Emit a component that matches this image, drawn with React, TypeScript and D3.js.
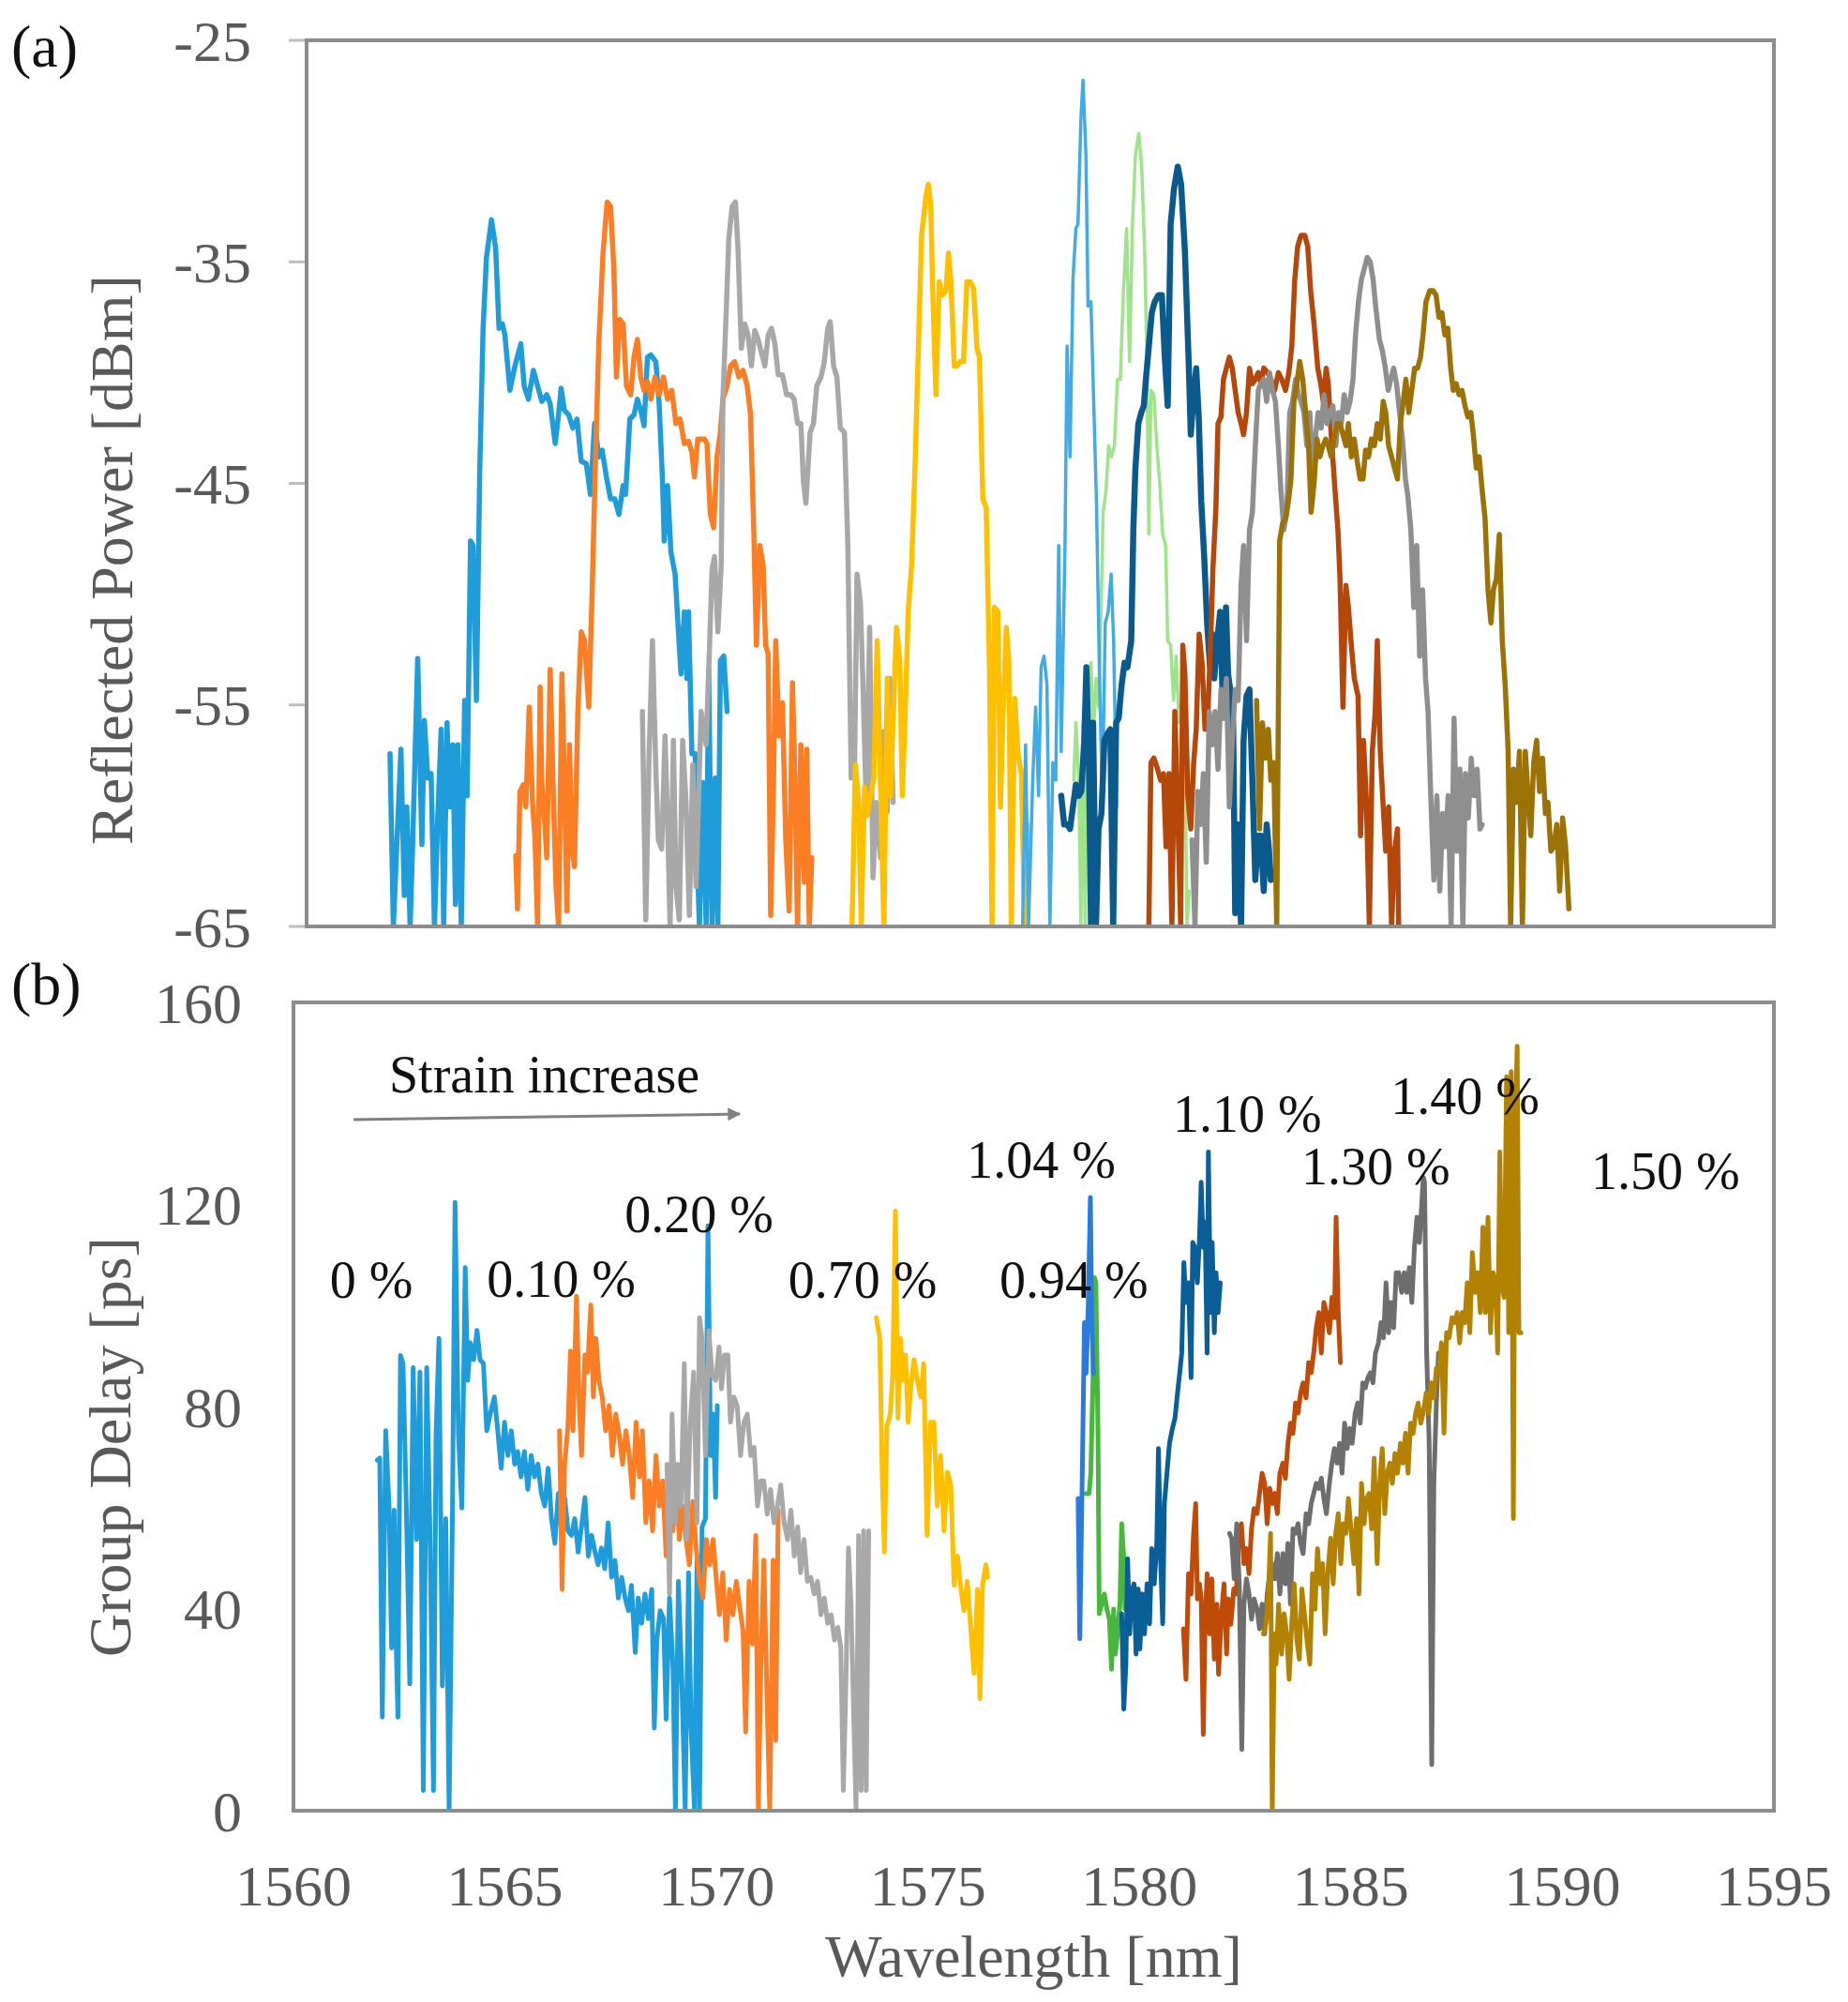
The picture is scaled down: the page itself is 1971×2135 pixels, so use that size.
import React from 'react';
import * as d3 from 'd3';

type Pt = [number, number];

// ---- (a) reflected power [dBm] vs wavelength [nm] ----
const refl000: Pt[] = [[1561.99,-57.2],[1562.07,-65],[1562.25,-57.0],[1562.33,-63.6],[1562.39,-59.6],[1562.47,-65],[1562.53,-61.3],[1562.65,-52.9],[1562.75,-61.3],[1562.81,-55.7],[1562.89,-58.3],[1562.97,-58.1],[1563.05,-65],[1563.13,-60.0],[1563.21,-56.1],[1563.27,-65],[1563.35,-55.8],[1563.41,-59.6],[1563.49,-56.8],[1563.55,-64.0],[1563.61,-56.8],[1563.69,-65],[1563.77,-54.8],[1563.83,-59.1],[1563.91,-47.6],[1563.97,-47.8],[1564.05,-54.8],[1564.13,-44.4],[1564.21,-38.0],[1564.29,-34.8],[1564.41,-33.1],[1564.51,-34.4],[1564.59,-38.0],[1564.67,-37.8],[1564.73,-38.3],[1564.85,-40.8],[1564.97,-39.7],[1565.11,-38.7],[1565.19,-40.6],[1565.29,-41.2],[1565.41,-39.9],[1565.51,-40.6],[1565.61,-41.3],[1565.73,-41.0],[1565.81,-41.4],[1565.93,-43.2],[1566.01,-41.9],[1566.07,-40.7],[1566.15,-41.7],[1566.25,-41.9],[1566.35,-42.5],[1566.45,-42.1],[1566.55,-44.0],[1566.67,-44.1],[1566.77,-45.5],[1566.87,-42.3],[1566.97,-43.8],[1567.05,-43.5],[1567.15,-44.7],[1567.25,-45.7],[1567.35,-45.7],[1567.45,-46.4],[1567.55,-45.1],[1567.61,-45.5],[1567.71,-42.1],[1567.81,-41.9],[1567.89,-41.2],[1567.97,-41.7],[1568.05,-42.4],[1568.13,-39.3],[1568.21,-39.2],[1568.33,-39.5],[1568.41,-41.4],[1568.49,-44.9],[1568.53,-47.6],[1568.61,-45.1],[1568.69,-48.1],[1568.79,-49.1],[1568.87,-51.7],[1568.93,-53.6],[1569.01,-50.8],[1569.07,-53.8],[1569.11,-50.8],[1569.19,-57.2],[1569.27,-57.2],[1569.31,-61.5],[1569.37,-65],[1569.45,-58.5],[1569.53,-65],[1569.59,-53.4],[1569.67,-65],[1569.75,-58.3],[1569.81,-65],[1569.87,-53.0],[1569.95,-52.8],[1570.03,-55.3]];
const refl010: Pt[] = [[1564.99,-61.8],[1565.03,-64.2],[1565.09,-58.9],[1565.17,-58.6],[1565.23,-59.6],[1565.31,-55.1],[1565.39,-59.4],[1565.45,-61.1],[1565.51,-65],[1565.57,-54.2],[1565.61,-58.5],[1565.69,-60.6],[1565.73,-61.9],[1565.81,-53.4],[1565.89,-59.4],[1565.95,-63.2],[1566.01,-65],[1566.09,-53.6],[1566.15,-58.5],[1566.21,-64.3],[1566.27,-56.8],[1566.33,-61.5],[1566.39,-62.3],[1566.47,-55.3],[1566.55,-51.7],[1566.63,-52.1],[1566.73,-55.1],[1566.81,-50.0],[1566.89,-44.0],[1566.97,-38.7],[1567.07,-34.6],[1567.17,-32.3],[1567.25,-32.5],[1567.33,-35.3],[1567.39,-40.2],[1567.47,-37.6],[1567.55,-37.8],[1567.63,-40.6],[1567.73,-41.0],[1567.81,-39.3],[1567.89,-38.5],[1567.97,-40.2],[1568.05,-40.8],[1568.13,-40.4],[1568.21,-41.2],[1568.31,-40.2],[1568.41,-41.0],[1568.51,-40.2],[1568.61,-41.2],[1568.71,-40.8],[1568.81,-42.3],[1568.91,-42.1],[1569.01,-43.2],[1569.11,-43.1],[1569.19,-43.6],[1569.25,-44.7],[1569.33,-43.0],[1569.41,-43.0],[1569.49,-43.0],[1569.55,-43.2],[1569.63,-46.4],[1569.71,-47.0],[1569.79,-43.8],[1569.87,-42.7],[1569.93,-41.2],[1570.03,-40.6],[1570.11,-39.7],[1570.21,-39.5],[1570.31,-40.2],[1570.41,-39.9],[1570.51,-40.6],[1570.59,-41.9],[1570.67,-47.4],[1570.73,-52.3],[1570.81,-47.8],[1570.89,-48.7],[1570.95,-52.3],[1571.01,-52.7],[1571.07,-64.5],[1571.13,-59.4],[1571.19,-52.1],[1571.27,-56.4],[1571.35,-54.9],[1571.43,-61.1],[1571.51,-64.3],[1571.59,-54.0],[1571.65,-58.5],[1571.71,-65],[1571.79,-56.8],[1571.87,-63.0],[1571.93,-57.0],[1571.99,-65],[1572.05,-61.9]];
const refl020: Pt[] = [[1568.01,-55.3],[1568.09,-64.7],[1568.17,-57.2],[1568.25,-52.1],[1568.33,-57.9],[1568.39,-61.1],[1568.47,-61.5],[1568.55,-56.4],[1568.61,-60.2],[1568.67,-65],[1568.75,-56.6],[1568.81,-63.2],[1568.89,-64.7],[1568.97,-56.6],[1569.05,-59.4],[1569.13,-64.5],[1569.21,-57.7],[1569.29,-63.2],[1569.41,-55.3],[1569.53,-56.8],[1569.61,-52.5],[1569.67,-48.9],[1569.73,-48.3],[1569.81,-51.7],[1569.89,-48.7],[1569.93,-41.2],[1570.01,-37.2],[1570.07,-34.0],[1570.15,-32.5],[1570.23,-32.3],[1570.29,-34.4],[1570.37,-38.9],[1570.45,-37.8],[1570.53,-38.3],[1570.61,-39.7],[1570.69,-38.1],[1570.77,-38.5],[1570.85,-39.1],[1570.93,-39.7],[1571.01,-38.3],[1571.09,-38.0],[1571.17,-38.7],[1571.25,-40.1],[1571.35,-40.1],[1571.45,-41.0],[1571.55,-41.0],[1571.63,-41.2],[1571.71,-42.3],[1571.79,-42.3],[1571.85,-44.9],[1571.91,-45.9],[1572.01,-42.7],[1572.09,-42.3],[1572.17,-40.6],[1572.27,-40.2],[1572.35,-39.5],[1572.43,-38.0],[1572.49,-37.7],[1572.57,-39.7],[1572.65,-40.2],[1572.73,-42.5],[1572.83,-42.7],[1572.91,-47.8],[1572.99,-58.3],[1573.07,-57.7],[1573.13,-49.1],[1573.21,-50.4],[1573.27,-54.0],[1573.35,-59.6],[1573.43,-51.5],[1573.51,-62.8],[1573.59,-59.4],[1573.69,-61.9],[1573.77,-56.2],[1573.85,-59.8],[1573.91,-53.8],[1573.99,-59.4]];
const refl070: Pt[] = [[1573.01,-65],[1573.09,-57.7],[1573.17,-59.4],[1573.23,-65],[1573.31,-58.7],[1573.37,-60.0],[1573.45,-59.1],[1573.53,-58.3],[1573.61,-52.1],[1573.69,-58.7],[1573.77,-65],[1573.85,-53.8],[1573.93,-59.1],[1573.99,-55.7],[1574.07,-51.5],[1574.15,-53.0],[1574.21,-59.1],[1574.29,-54.7],[1574.35,-50.8],[1574.43,-48.7],[1574.51,-44.4],[1574.59,-39.1],[1574.67,-33.8],[1574.77,-32.1],[1574.83,-31.5],[1574.89,-32.5],[1574.93,-35.9],[1575.01,-41.0],[1575.09,-35.9],[1575.17,-36.5],[1575.25,-36.3],[1575.31,-34.6],[1575.37,-35.9],[1575.45,-39.7],[1575.51,-39.7],[1575.59,-39.5],[1575.67,-39.5],[1575.75,-35.9],[1575.83,-35.9],[1575.91,-36.2],[1575.99,-38.9],[1576.05,-39.3],[1576.13,-45.7],[1576.21,-46.1],[1576.29,-53.4],[1576.35,-65],[1576.41,-50.6],[1576.49,-50.8],[1576.55,-59.6],[1576.61,-55.5],[1576.69,-51.5],[1576.75,-53.0],[1576.81,-65],[1576.89,-54.7],[1576.97,-57.2],[1577.05,-58.1],[1577.13,-65],[1577.19,-60.4]];
const refl094: Pt[] = [[1578.30,-58.4],[1578.35,-55.8],[1578.42,-58.6],[1578.47,-65],[1578.52,-55.8],[1578.57,-65],[1578.64,-54.6],[1578.71,-53.1],[1578.77,-56.3],[1578.83,-53.8],[1578.89,-55.1],[1578.95,-50.8],[1579.00,-46.3],[1579.07,-45.3],[1579.13,-43.3],[1579.20,-43.8],[1579.27,-43.3],[1579.34,-40.3],[1579.41,-40.3],[1579.48,-36.5],[1579.56,-33.5],[1579.63,-39.5],[1579.70,-33.3],[1579.77,-30.2],[1579.85,-29.2],[1579.92,-30.7],[1579.99,-34.5],[1580.04,-39.0],[1580.09,-47.3],[1580.14,-40.8],[1580.21,-41.0],[1580.28,-43.3],[1580.35,-45.0],[1580.42,-47.3],[1580.49,-47.8],[1580.54,-52.1],[1580.61,-52.3],[1580.68,-54.8],[1580.74,-52.8],[1580.81,-55.8],[1580.88,-54.8],[1580.95,-57.3],[1581.00,-65],[1581.05,-63.4]];
const refl104: Pt[] = [[1577.08,-65],[1577.15,-56.8],[1577.22,-65],[1577.32,-58.4],[1577.39,-55.1],[1577.46,-59.1],[1577.52,-53.3],[1577.59,-52.8],[1577.66,-54.1],[1577.73,-65],[1577.80,-57.6],[1577.87,-58.4],[1577.94,-47.8],[1578.00,-57.1],[1578.09,-47.8],[1578.14,-38.8],[1578.21,-43.8],[1578.28,-35.8],[1578.35,-33.5],[1578.40,-33.3],[1578.47,-28.5],[1578.52,-26.8],[1578.59,-30.2],[1578.64,-37.0],[1578.71,-36.8],[1578.77,-41.0],[1578.84,-45.8],[1578.91,-53.3],[1578.98,-59.4],[1579.05,-51.3],[1579.12,-50.8],[1579.19,-49.1],[1579.25,-52.1],[1579.32,-59.6]];
const refl110: Pt[] = [[1578.00,-59.1],[1578.07,-60.4],[1578.14,-60.4],[1578.21,-60.6],[1578.28,-59.6],[1578.35,-58.6],[1578.42,-59.1],[1578.48,-58.9],[1578.55,-56.6],[1578.60,-53.3],[1578.66,-57.3],[1578.71,-65],[1578.76,-55.8],[1578.83,-65],[1578.89,-60.6],[1578.96,-59.9],[1579.03,-56.6],[1579.10,-56.3],[1579.17,-56.1],[1579.24,-65],[1579.31,-55.8],[1579.37,-55.6],[1579.44,-54.1],[1579.51,-53.1],[1579.58,-53.3],[1579.67,-52.1],[1579.72,-47.1],[1579.77,-44.3],[1579.84,-42.3],[1579.91,-41.8],[1579.97,-41.5],[1580.02,-40.3],[1580.09,-38.8],[1580.16,-37.3],[1580.23,-36.8],[1580.32,-36.5],[1580.40,-36.5],[1580.47,-39.3],[1580.54,-41.5],[1580.61,-33.3],[1580.69,-31.7],[1580.78,-30.7],[1580.86,-31.5],[1580.95,-34.5],[1581.04,-39.5],[1581.09,-42.8],[1581.16,-41.0],[1581.22,-39.8],[1581.28,-42.0],[1581.34,-45.8],[1581.41,-48.3],[1581.48,-51.3],[1581.55,-53.3],[1581.60,-51.8],[1581.65,-53.8],[1581.72,-52.1],[1581.79,-50.8],[1581.86,-55.3],[1581.93,-50.6],[1581.98,-53.6],[1582.03,-54.3],[1582.10,-55.8],[1582.15,-64.4],[1582.22,-60.4],[1582.29,-65],[1582.35,-56.6],[1582.42,-54.6],[1582.49,-54.3],[1582.56,-58.4],[1582.63,-62.9],[1582.70,-60.9],[1582.76,-60.9],[1582.83,-63.4],[1582.90,-60.4],[1582.95,-61.4],[1583.00,-62.9]];
const refl130: Pt[] = [[1580.09,-65],[1580.14,-57.6],[1580.21,-57.4],[1580.30,-57.9],[1580.37,-58.4],[1580.44,-58.1],[1580.50,-61.4],[1580.57,-58.1],[1580.64,-65],[1580.71,-55.3],[1580.78,-59.9],[1580.85,-65],[1580.90,-52.3],[1580.95,-53.6],[1581.02,-59.1],[1581.09,-60.6],[1581.16,-57.6],[1581.22,-56.1],[1581.29,-51.8],[1581.36,-53.1],[1581.43,-56.1],[1581.50,-55.3],[1581.57,-51.8],[1581.62,-48.8],[1581.69,-46.1],[1581.74,-42.3],[1581.81,-42.0],[1581.87,-40.3],[1581.94,-39.8],[1582.01,-39.3],[1582.08,-39.8],[1582.15,-40.8],[1582.22,-41.8],[1582.29,-42.3],[1582.35,-42.8],[1582.42,-41.8],[1582.49,-39.8],[1582.56,-40.5],[1582.63,-40.3],[1582.70,-40.0],[1582.76,-40.5],[1582.83,-39.8],[1582.92,-40.0],[1583.00,-40.3],[1583.09,-40.8],[1583.18,-40.0],[1583.26,-40.3],[1583.35,-40.8],[1583.43,-40.0],[1583.50,-38.8],[1583.57,-35.8],[1583.64,-34.3],[1583.72,-33.8],[1583.81,-33.8],[1583.88,-34.3],[1583.95,-36.3],[1584.03,-37.8],[1584.12,-39.8],[1584.19,-40.5],[1584.25,-41.3],[1584.32,-39.8],[1584.37,-40.5],[1584.44,-42.8],[1584.53,-45.3],[1584.60,-47.1],[1584.65,-49.3],[1584.72,-55.1],[1584.79,-49.6],[1584.85,-50.6],[1584.92,-52.3],[1584.99,-53.8],[1585.08,-54.6],[1585.14,-60.9],[1585.21,-56.6],[1585.28,-59.4],[1585.35,-65],[1585.42,-57.1],[1585.49,-55.3],[1585.54,-52.1],[1585.61,-57.1],[1585.68,-59.6],[1585.74,-61.6],[1585.81,-59.6],[1585.88,-65],[1585.95,-61.6],[1586.02,-60.6],[1586.05,-65]];
const refl140: Pt[] = [[1581.12,-61.1],[1581.19,-65],[1581.26,-58.9],[1581.33,-60.4],[1581.39,-58.1],[1581.46,-62.1],[1581.53,-55.3],[1581.60,-56.8],[1581.67,-55.3],[1581.74,-57.9],[1581.81,-54.3],[1581.87,-55.6],[1581.94,-53.8],[1582.01,-59.6],[1582.08,-56.6],[1582.15,-54.3],[1582.22,-54.8],[1582.29,-49.6],[1582.35,-47.8],[1582.42,-52.1],[1582.49,-47.1],[1582.56,-46.3],[1582.63,-43.3],[1582.70,-40.8],[1582.76,-40.5],[1582.83,-40.3],[1582.90,-41.3],[1582.97,-40.0],[1583.04,-40.8],[1583.11,-41.3],[1583.18,-43.3],[1583.24,-45.3],[1583.31,-47.1],[1583.38,-46.3],[1583.45,-41.8],[1583.52,-41.3],[1583.59,-40.3],[1583.66,-41.0],[1583.72,-41.3],[1583.79,-41.8],[1583.86,-43.3],[1583.93,-41.8],[1584.00,-44.8],[1584.07,-42.8],[1584.13,-41.8],[1584.20,-42.5],[1584.27,-41.0],[1584.34,-42.3],[1584.41,-41.8],[1584.48,-41.5],[1584.55,-43.3],[1584.61,-41.8],[1584.68,-42.3],[1584.75,-41.0],[1584.82,-41.8],[1584.89,-41.3],[1584.96,-40.3],[1585.02,-38.3],[1585.09,-36.8],[1585.16,-35.8],[1585.23,-35.3],[1585.30,-34.8],[1585.37,-35.0],[1585.44,-35.8],[1585.50,-37.0],[1585.59,-38.5],[1585.66,-39.0],[1585.73,-39.8],[1585.80,-40.8],[1585.86,-40.3],[1585.93,-39.8],[1586.00,-40.5],[1586.07,-41.8],[1586.14,-43.0],[1586.21,-44.8],[1586.27,-45.6],[1586.34,-47.1],[1586.41,-50.6],[1586.48,-47.8],[1586.55,-52.8],[1586.62,-49.8],[1586.69,-53.8],[1586.75,-55.3],[1586.82,-59.4],[1586.89,-62.9],[1586.96,-59.1],[1587.03,-63.4],[1587.10,-59.9],[1587.16,-61.4],[1587.23,-59.1],[1587.30,-65],[1587.37,-55.6],[1587.44,-61.6],[1587.51,-57.9],[1587.58,-65],[1587.64,-58.1],[1587.71,-60.1],[1587.78,-57.4],[1587.85,-59.1],[1587.92,-57.9],[1587.99,-60.6],[1588.04,-60.4]];
const refl150: Pt[] = [[1582.66,-54.8],[1582.73,-60.6],[1582.80,-55.8],[1582.87,-57.4],[1582.94,-56.1],[1583.00,-58.4],[1583.07,-57.6],[1583.14,-65],[1583.21,-47.6],[1583.28,-46.8],[1583.35,-46.6],[1583.42,-45.8],[1583.48,-44.8],[1583.55,-41.3],[1583.62,-40.5],[1583.69,-39.5],[1583.76,-40.3],[1583.83,-41.8],[1583.90,-43.3],[1583.96,-46.3],[1584.03,-45.0],[1584.10,-43.0],[1584.17,-43.8],[1584.24,-43.3],[1584.31,-43.0],[1584.37,-43.3],[1584.44,-43.8],[1584.51,-43.0],[1584.58,-42.3],[1584.65,-42.3],[1584.72,-42.8],[1584.79,-43.3],[1584.85,-42.3],[1584.92,-43.8],[1584.99,-43.0],[1585.06,-44.0],[1585.13,-44.8],[1585.20,-44.8],[1585.26,-43.5],[1585.33,-43.8],[1585.40,-43.0],[1585.47,-43.3],[1585.54,-42.3],[1585.61,-43.0],[1585.68,-41.3],[1585.74,-41.8],[1585.81,-43.3],[1585.88,-43.8],[1585.95,-44.3],[1586.02,-44.8],[1586.09,-42.3],[1586.16,-41.3],[1586.22,-40.3],[1586.29,-41.8],[1586.36,-40.8],[1586.43,-39.8],[1586.50,-39.8],[1586.57,-39.3],[1586.63,-38.3],[1586.70,-36.8],[1586.79,-36.3],[1586.87,-36.3],[1586.94,-36.5],[1587.01,-37.5],[1587.08,-37.3],[1587.15,-38.3],[1587.22,-38.0],[1587.29,-39.8],[1587.35,-40.8],[1587.42,-40.5],[1587.49,-41.0],[1587.56,-40.8],[1587.63,-41.5],[1587.70,-42.0],[1587.77,-41.8],[1587.83,-42.8],[1587.90,-44.3],[1587.97,-43.8],[1588.04,-45.3],[1588.11,-46.6],[1588.18,-49.8],[1588.25,-51.3],[1588.31,-49.8],[1588.38,-49.3],[1588.45,-47.3],[1588.52,-52.1],[1588.59,-54.1],[1588.66,-57.1],[1588.72,-65],[1588.79,-57.9],[1588.86,-59.4],[1588.93,-57.1],[1589.00,-65],[1589.07,-57.1],[1589.13,-58.9],[1589.20,-60.9],[1589.27,-57.6],[1589.34,-56.6],[1589.41,-58.9],[1589.48,-57.4],[1589.55,-59.9],[1589.61,-59.4],[1589.68,-61.6],[1589.75,-61.4],[1589.82,-60.4],[1589.89,-63.4],[1589.96,-60.1],[1590.03,-61.4],[1590.11,-64.2]];

// ---- (b) group delay [ps] vs wavelength [nm] ----
const delay000: Pt[] = [[1561.98,69.4],[1562.04,69.8],[1562.10,18.5],[1562.18,75.2],[1562.26,60.3],[1562.32,32.2],[1562.38,59.5],[1562.43,32.2],[1562.47,18.5],[1562.53,90.1],[1562.59,88.5],[1562.67,59.5],[1562.75,25.1],[1562.83,87.7],[1562.91,53.7],[1562.99,86.8],[1563.07,4.0],[1563.15,87.7],[1563.23,53.7],[1563.31,4.0],[1563.37,74.4],[1563.44,93.5],[1563.52,24.7],[1563.60,57.8],[1563.68,0],[1563.76,60.3],[1563.82,120.4],[1563.90,74.4],[1563.98,59.9],[1564.06,107.5],[1564.12,85.2],[1564.18,92.6],[1564.26,89.3],[1564.34,95.1],[1564.41,89.3],[1564.49,88.5],[1564.57,75.2],[1564.65,78.5],[1564.75,81.9],[1564.83,75.2],[1564.91,67.8],[1564.99,76.9],[1565.07,70.3],[1565.15,75.2],[1565.23,68.6],[1565.30,71.1],[1565.38,66.1],[1565.46,71.1],[1565.54,63.6],[1565.62,70.3],[1565.70,66.1],[1565.78,68.6],[1565.86,62.8],[1565.94,60.3],[1566.02,67.8],[1566.10,57.8],[1566.18,52.9],[1566.26,62.8],[1566.33,56.2],[1566.41,62.0],[1566.49,55.4],[1566.57,54.5],[1566.65,57.8],[1566.73,51.2],[1566.81,56.2],[1566.89,62.0],[1566.97,50.4],[1567.05,54.5],[1567.13,51.2],[1567.20,48.7],[1567.28,52.0],[1567.36,47.9],[1567.44,57.0],[1567.52,46.2],[1567.60,49.5],[1567.68,42.1],[1567.76,46.2],[1567.84,42.1],[1567.92,39.6],[1567.99,44.6],[1568.08,31.3],[1568.15,42.1],[1568.23,37.1],[1568.31,42.9],[1568.39,38.0],[1568.47,43.8],[1568.53,16.4],[1568.59,33.8],[1568.67,39.6],[1568.75,38.0],[1568.81,18.1],[1568.89,42.1],[1568.97,28.8],[1569.03,0.3],[1569.10,45.4],[1569.18,26.3],[1569.26,0.3],[1569.34,47.1],[1569.40,16.4],[1569.48,0.3],[1569.54,49.6],[1569.60,0.3],[1569.66,56.2],[1569.74,57.8],[1569.80,115.8],[1569.86,70.3],[1569.92,78.5],[1569.98,62.0],[1570.02,80.2]];
const delay010: Pt[] = [[1566.29,75.2],[1566.35,43.8],[1566.41,68.6],[1566.49,76.1],[1566.55,91.0],[1566.61,75.2],[1566.69,101.8],[1566.75,81.9],[1566.81,70.3],[1566.89,90.2],[1566.95,86.8],[1567.03,100.1],[1567.09,81.9],[1567.15,93.5],[1567.22,85.2],[1567.30,81.9],[1567.38,75.2],[1567.46,80.2],[1567.54,70.3],[1567.62,78.5],[1567.70,74.4],[1567.78,68.6],[1567.86,75.2],[1567.94,70.3],[1568.02,62.0],[1568.10,76.9],[1568.18,66.1],[1568.25,75.2],[1568.33,57.0],[1568.41,65.3],[1568.49,55.4],[1568.57,70.3],[1568.65,60.3],[1568.73,65.3],[1568.81,50.4],[1568.89,60.3],[1568.97,55.4],[1569.05,65.3],[1569.12,53.7],[1569.20,60.3],[1569.28,53.7],[1569.36,48.7],[1569.44,61.2],[1569.52,52.0],[1569.60,45.4],[1569.68,42.1],[1569.76,53.7],[1569.84,48.7],[1569.92,53.7],[1570.00,45.4],[1570.07,38.8],[1570.15,47.1],[1570.23,33.8],[1570.31,43.8],[1570.39,38.8],[1570.47,45.4],[1570.55,40.4],[1570.63,35.5],[1570.69,15.6],[1570.77,45.4],[1570.85,33.0],[1570.93,54.5],[1570.99,0.3],[1571.05,28.8],[1571.12,49.6],[1571.20,20.5],[1571.26,0.3],[1571.34,49.6],[1571.40,13.9],[1571.46,59.5]];
const delay020: Pt[] = [[1568.83,68.6],[1568.89,42.9],[1568.95,78.5],[1569.03,57.0],[1569.09,68.6],[1569.16,60.3],[1569.24,88.5],[1569.30,53.7],[1569.38,76.9],[1569.46,86.8],[1569.54,57.0],[1569.60,97.6],[1569.66,93.5],[1569.74,70.3],[1569.82,95.1],[1569.90,86.0],[1569.98,85.2],[1570.06,91.8],[1570.12,83.5],[1570.19,90.2],[1570.27,90.2],[1570.33,76.9],[1570.41,81.9],[1570.49,80.2],[1570.57,70.3],[1570.65,76.9],[1570.73,78.5],[1570.81,70.3],[1570.89,71.9],[1570.97,60.3],[1571.05,65.3],[1571.12,65.3],[1571.20,58.7],[1571.28,63.6],[1571.36,57.0],[1571.44,60.3],[1571.52,64.5],[1571.60,57.0],[1571.68,53.7],[1571.76,59.5],[1571.84,50.4],[1571.92,56.2],[1571.99,47.1],[1572.07,53.7],[1572.15,45.4],[1572.23,46.2],[1572.31,42.9],[1572.39,45.4],[1572.47,38.8],[1572.55,42.1],[1572.63,37.1],[1572.71,38.8],[1572.79,33.8],[1572.87,36.3],[1572.94,32.2],[1573.00,4.0],[1573.06,24.7],[1573.12,52.0],[1573.18,41.3],[1573.24,20.5],[1573.30,0],[1573.36,54.5],[1573.42,4.0],[1573.48,55.4],[1573.54,4.0],[1573.60,55.4]];
const delay070: Pt[] = [[1573.78,97.6],[1573.86,93.5],[1573.92,66.1],[1573.97,51.2],[1574.03,76.1],[1574.11,78.5],[1574.17,86.8],[1574.23,118.7],[1574.29,77.7],[1574.35,93.5],[1574.41,85.2],[1574.47,90.2],[1574.53,76.9],[1574.61,85.2],[1574.67,89.3],[1574.75,85.2],[1574.83,81.9],[1574.90,88.5],[1574.98,54.5],[1575.06,76.9],[1575.14,76.9],[1575.22,60.3],[1575.30,70.3],[1575.38,55.4],[1575.46,67.0],[1575.54,64.5],[1575.62,44.6],[1575.70,50.4],[1575.78,43.8],[1575.85,39.6],[1575.93,45.4],[1576.01,36.3],[1576.09,27.2],[1576.17,43.8],[1576.23,22.2],[1576.29,44.6],[1576.37,48.7],[1576.41,46.2]];
const delay094: Pt[] = [[1578.74,62.8],[1578.81,62.8],[1578.85,66.8],[1578.90,84.7],[1578.94,105.5],[1578.97,104.5],[1579.02,74.7],[1579.05,39.0],[1579.11,41.0],[1579.17,42.9],[1579.23,39.9],[1579.29,37.9],[1579.34,28.0],[1579.39,39.9],[1579.43,31.0],[1579.48,35.0],[1579.54,41.0],[1579.58,56.8],[1579.63,49.9],[1579.66,39.9]];
const delay104: Pt[] = [[1578.55,61.8],[1578.59,34.0],[1578.64,61.8],[1578.70,96.6],[1578.74,86.6],[1578.79,99.6],[1578.84,121.4],[1578.87,98.6],[1578.91,86.6]];
const delay110: Pt[] = [[1579.58,39.0],[1579.63,20.1],[1579.68,29.0],[1579.72,49.9],[1579.77,35.0],[1579.81,42.9],[1579.87,44.9],[1579.92,31.0],[1579.97,43.9],[1580.01,32.0],[1580.07,42.9],[1580.12,35.0],[1580.18,44.9],[1580.24,37.0],[1580.29,51.9],[1580.35,44.9],[1580.41,52.9],[1580.45,71.7],[1580.50,49.9],[1580.55,37.0],[1580.59,60.8],[1580.65,66.8],[1580.71,72.7],[1580.78,75.7],[1580.84,77.7],[1580.90,82.7],[1580.94,85.7],[1581.00,90.6],[1581.05,108.5],[1581.10,100.6],[1581.16,104.5],[1581.22,85.7],[1581.26,112.5],[1581.31,111.5],[1581.37,104.5],[1581.42,113.5],[1581.46,124.4],[1581.51,111.5],[1581.55,116.5],[1581.60,90.6],[1581.63,130.4],[1581.68,98.6],[1581.72,112.5],[1581.77,94.6],[1581.81,106.5],[1581.86,98.6],[1581.91,104.5]];
const delay130: Pt[] = [[1581.04,36.0],[1581.10,26.0],[1581.16,46.9],[1581.22,42.9],[1581.28,54.9],[1581.33,60.8],[1581.37,41.9],[1581.42,44.9],[1581.46,41.9],[1581.51,15.1],[1581.55,36.0],[1581.60,46.9],[1581.66,35.0],[1581.71,45.9],[1581.77,30.0],[1581.83,40.9],[1581.87,27.0],[1581.94,39.0],[1582.00,44.9],[1582.06,31.0],[1582.10,41.9],[1582.16,36.9],[1582.23,43.9],[1582.29,42.9],[1582.35,54.9],[1582.41,56.8],[1582.47,48.9],[1582.53,51.9],[1582.59,46.9],[1582.65,55.8],[1582.71,59.8],[1582.78,58.8],[1582.84,62.8],[1582.90,66.8],[1582.96,64.8],[1583.02,56.8],[1583.08,63.8],[1583.14,60.8],[1583.20,62.8],[1583.26,58.8],[1583.32,66.8],[1583.39,68.8],[1583.45,65.8],[1583.51,72.7],[1583.57,76.7],[1583.63,74.7],[1583.69,80.7],[1583.75,78.7],[1583.81,82.7],[1583.87,84.7],[1583.94,81.7],[1584.00,88.7],[1584.06,86.7],[1584.12,90.6],[1584.18,95.6],[1584.24,98.6],[1584.30,90.6],[1584.36,100.6],[1584.42,98.6],[1584.49,94.6],[1584.55,101.6],[1584.61,97.6],[1584.65,117.5],[1584.70,98.6],[1584.75,88.7]];
const delay140: Pt[] = [[1582.13,54.9],[1582.18,53.9],[1582.24,45.9],[1582.30,56.8],[1582.36,44.9],[1582.42,12.1],[1582.47,40.9],[1582.53,45.9],[1582.59,42.9],[1582.65,37.9],[1582.71,41.9],[1582.78,39.9],[1582.84,36.0],[1582.90,40.9],[1582.96,35.0],[1583.02,42.9],[1583.08,46.9],[1583.14,48.9],[1583.20,45.9],[1583.26,50.9],[1583.32,42.9],[1583.39,50.9],[1583.45,44.9],[1583.51,52.9],[1583.57,40.9],[1583.63,55.8],[1583.69,54.9],[1583.75,56.8],[1583.81,52.9],[1583.87,50.9],[1583.94,58.8],[1584.00,56.8],[1584.06,60.8],[1584.12,62.8],[1584.18,64.8],[1584.24,63.8],[1584.30,65.8],[1584.36,61.8],[1584.42,58.8],[1584.49,64.8],[1584.55,68.8],[1584.61,71.7],[1584.67,68.8],[1584.73,72.7],[1584.79,66.8],[1584.85,76.7],[1584.91,71.7],[1584.97,75.7],[1585.03,72.7],[1585.10,78.7],[1585.16,80.7],[1585.22,76.7],[1585.28,84.7],[1585.34,83.7],[1585.40,85.7],[1585.46,86.7],[1585.52,84.7],[1585.58,90.6],[1585.65,92.6],[1585.71,96.6],[1585.77,93.6],[1585.83,104.5],[1585.89,94.6],[1585.95,100.6],[1586.01,95.6],[1586.07,106.5],[1586.13,106.5],[1586.20,102.6],[1586.26,106.5],[1586.32,102.6],[1586.38,107.5],[1586.44,100.6],[1586.50,111.5],[1586.56,117.5],[1586.62,112.5],[1586.67,119.5],[1586.71,125.4],[1586.74,124.4],[1586.79,90.6],[1586.85,72.7],[1586.91,9.1],[1586.96,64.8],[1587.02,80.7],[1587.07,90.6]];
const delay150: Pt[] = [[1582.93,35.0],[1582.99,37.0],[1583.05,42.9],[1583.10,54.9],[1583.14,0],[1583.19,35.0],[1583.23,29.0],[1583.29,40.9],[1583.36,31.0],[1583.42,39.0],[1583.48,35.0],[1583.54,26.0],[1583.60,37.0],[1583.66,44.9],[1583.72,34.0],[1583.78,30.0],[1583.84,43.9],[1583.90,39.0],[1583.97,33.0],[1584.03,29.0],[1584.09,46.9],[1584.15,39.9],[1584.21,51.9],[1584.27,44.9],[1584.33,48.9],[1584.39,35.0],[1584.45,46.9],[1584.52,53.9],[1584.58,44.9],[1584.64,54.9],[1584.70,58.8],[1584.76,48.9],[1584.82,56.8],[1584.88,54.9],[1584.94,61.8],[1585.00,55.8],[1585.07,48.9],[1585.13,57.8],[1585.19,42.9],[1585.25,64.8],[1585.31,56.8],[1585.37,61.8],[1585.43,62.8],[1585.49,55.8],[1585.55,69.8],[1585.62,48.9],[1585.68,64.8],[1585.74,71.7],[1585.80,58.8],[1585.86,66.8],[1585.92,68.8],[1585.98,64.8],[1586.04,70.7],[1586.10,66.8],[1586.17,72.7],[1586.23,68.8],[1586.29,74.7],[1586.35,66.8],[1586.41,76.7],[1586.47,74.7],[1586.53,78.7],[1586.59,80.7],[1586.65,76.7],[1586.71,78.7],[1586.78,82.7],[1586.84,78.7],[1586.90,84.7],[1586.96,81.7],[1587.02,87.6],[1587.08,86.6],[1587.14,92.6],[1587.20,74.7],[1587.26,94.6],[1587.32,93.6],[1587.39,97.6],[1587.45,96.6],[1587.51,98.6],[1587.57,92.6],[1587.63,98.6],[1587.69,96.6],[1587.75,104.5],[1587.81,94.6],[1587.87,110.5],[1587.94,102.6],[1588.00,106.5],[1588.06,98.6],[1588.12,115.5],[1588.18,98.6],[1588.24,117.5],[1588.30,94.6],[1588.36,106.5],[1588.42,104.5],[1588.47,90.6],[1588.52,130.4],[1588.56,104.5],[1588.62,101.6],[1588.68,145.3],[1588.73,94.6],[1588.79,146.3],[1588.84,57.8],[1588.88,134.4],[1588.93,151.3],[1588.97,94.6],[1589.02,94.6]];

const reflSeries = [refl000, refl010, refl020, refl070, refl094, refl104, refl110, refl130, refl140, refl150];
const reflColors = ['#1f9ddb', '#fb7d24', '#a8a8a8', '#ffc000', '#9fe38b', '#40abe6', '#0b5a8e', '#b5470b', '#8f8f8f', '#9c7206'];
const reflWidths = [5.5, 5.5, 5.5, 5.5, 3.5, 3.5, 6.5, 5.5, 5.5, 5.5];

const delaySeries = [delay000, delay010, delay020, delay070, delay094, delay104, delay110, delay130, delay140, delay150];
const delayColors = ['#1f9ddb', '#fb7d24', '#a8a8a8', '#ffc000', '#47b83b', '#2b7bdb', '#0b5f98', '#c04a08', '#6e6e6e', '#b28200'];

const reflTicks = [-25, -35, -45, -55, -65];
const delayTicks = [0, 40, 80, 120, 160];
const wlTicks = [1560, 1565, 1570, 1575, 1580, 1585, 1590, 1595];

// strain labels in panel (b): [text, wavelength at left edge, group delay at baseline]
const strainLabels: [string, number, number][] = [
  ['0 %', 1560.86, 101.5],
  ['0.10 %', 1564.57, 101.7],
  ['0.20 %', 1567.83, 114.5],
  ['0.70 %', 1571.7, 101.5],
  ['0.94 %', 1576.69, 101.5],
  ['1.04 %', 1575.92, 125.3],
  ['1.10 %', 1580.79, 134.4],
  ['1.30 %', 1583.83, 124.0],
  ['1.40 %', 1585.94, 137.9],
  ['1.50 %', 1590.68, 123.1],
];
const arrowFrom: Pt = [1561.42, 136.8];
const arrowTo: Pt = [1570.55, 137.9];

const FONT = '"Liberation Serif", "Times New Roman", serif';
const GREY_TEXT = '#595959';
const FRAME = '#8c8c8c';

export default function App() {
  const xA = d3.scaleLinear().domain([1560, 1595]).range([327, 1892]);
  const yA = d3.scaleLinear().domain([-65, -25]).range([988, 43]);
  const xB = d3.scaleLinear().domain([1560, 1595]).range([313, 1892]);
  const yB = d3.scaleLinear().domain([0, 160]).range([1931, 1069]);

  const lineA = d3.line<Pt>().x(d => xA(d[0])).y(d => yA(d[1]));
  const lineB = d3.line<Pt>().x(d => xB(d[0])).y(d => yB(d[1]));

  const [ax0, ax1] = xA.range();
  const [ay0, ay1] = yA.range();
  const [bx0, bx1] = xB.range();
  const [by0, by1] = yB.range();

  return (
    <svg width={1971} height={2135} style={{ position: 'absolute', left: 0, top: 0, background: '#fff' }} fontFamily={FONT}>
      <defs>
        <clipPath id="clipA"><rect x={ax0} y={ay1 - 3} width={ax1 - ax0} height={ay0 - ay1 + 3} /></clipPath>
        <clipPath id="clipB"><rect x={bx0} y={by1} width={bx1 - bx0} height={by0 - by1 + 2} /></clipPath>
        <marker id="arrowHead" viewBox="0 0 10 10" refX="9" refY="5" markerWidth="16" markerHeight="14" orient="auto" markerUnits="userSpaceOnUse">
          <path d="M0,0 L10,5 L0,10 z" fill="#808080" />
        </marker>
      </defs>

      {/* ---------- panel (a) ---------- */}
      <text x={12} y={71} fontSize={64} fill="#111">(a)</text>
      {reflTicks.map(t => (
        <g key={'ta' + t}>
          <line x1={ax0 - 19} x2={ax0} y1={yA(t)} y2={yA(t)} stroke="#bdbdbd" strokeWidth={3} />
          <text x={268} y={yA(t)} dy="0.35em" textAnchor="end" fontSize={62} fill={GREY_TEXT}>{t}</text>
        </g>
      ))}
      <text transform={`translate(141,597) rotate(-90)`} textAnchor="middle" fontSize={64} fill={GREY_TEXT}>Reflected Power [dBm]</text>
      <g clipPath="url(#clipA)" fill="none" strokeLinejoin="round" strokeLinecap="round">
        {reflSeries.map((s, i) => (
          <path key={'ra' + i} d={lineA(s) || ''} stroke={reflColors[i]} strokeWidth={reflWidths[i]} />
        ))}
      </g>
      <rect x={ax0} y={ay1} width={ax1 - ax0} height={ay0 - ay1} fill="none" stroke={FRAME} strokeWidth={4} />

      {/* ---------- panel (b) ---------- */}
      <text x={12} y={1071} fontSize={64} fill="#111">(b)</text>
      {delayTicks.map(t => (
        <text key={'tb' + t} x={258} y={yB(t)} dy="0.35em" textAnchor="end" fontSize={62} fill={GREY_TEXT}>{t}</text>
      ))}
      {wlTicks.map(t => (
        <text key={'tx' + t} x={xB(t)} y={2032} textAnchor="middle" fontSize={62} fill={GREY_TEXT}>{t}</text>
      ))}
      <text transform={`translate(139,1543) rotate(-90)`} textAnchor="middle" fontSize={64} fill={GREY_TEXT}>Group Delay [ps]</text>
      <text x={(bx0 + bx1) / 2} y={2108} textAnchor="middle" fontSize={64} fill={GREY_TEXT}>Wavelength [nm]</text>

      <g clipPath="url(#clipB)" fill="none" strokeLinejoin="round" strokeLinecap="round">
        {delaySeries.map((s, i) => (
          <path key={'db' + i} d={lineB(s) || ''} stroke={delayColors[i]} strokeWidth={5} />
        ))}
      </g>
      <rect x={bx0} y={by1} width={bx1 - bx0} height={by0 - by1} fill="none" stroke={FRAME} strokeWidth={4} />

      <text x={xB(1562.26)} y={yB(142.2)} fontSize={56} fill="#111">Strain increase</text>
      <line x1={xB(arrowFrom[0])} y1={yB(arrowFrom[1])} x2={xB(arrowTo[0])} y2={yB(arrowTo[1])}
        stroke="#808080" strokeWidth={3} markerEnd="url(#arrowHead)" />
      {strainLabels.map(([txt, wl, gd]) => (
        <text key={txt} x={xB(wl)} y={yB(gd)} fontSize={56} fill="#111">{txt}</text>
      ))}
    </svg>
  );
}
